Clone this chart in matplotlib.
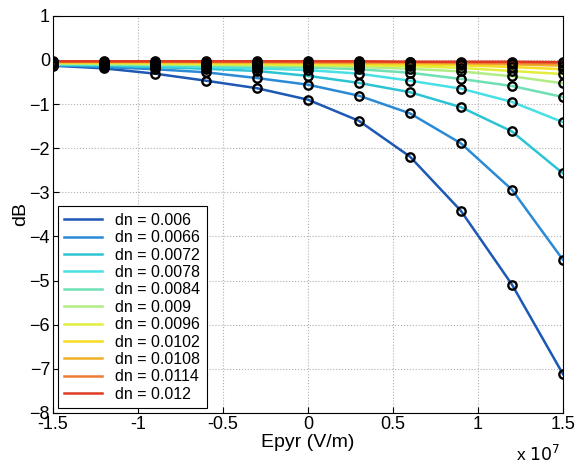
import numpy as np
import matplotlib
matplotlib.use('Agg')
import matplotlib.pyplot as plt

plt.rcParams['font.family'] = ['Liberation Sans', 'DejaVu Sans']

# field values (units of 1e7 V/m)
epyr = [-1.5, -1.2, -0.9, -0.6, -0.3, 0.0, 0.3, 0.6, 0.9, 1.2, 1.5]
dn_labels = ['0.006', '0.0066', '0.0072', '0.0078', '0.0084', '0.009',
             '0.0096', '0.0102', '0.0108', '0.0114', '0.012']

db_006 = [-0.13, -0.19, -0.31, -0.47, -0.64, -0.90, -1.38, -2.19, -3.42, -5.09, -7.12]
db_0066 = [-0.12, -0.16, -0.21, -0.28, -0.41, -0.56, -0.81, -1.21, -1.89, -2.94, -4.53]
db_0072 = [-0.11, -0.13, -0.16, -0.20, -0.25, -0.36, -0.52, -0.73, -1.07, -1.62, -2.57]
db_0078 = [-0.10, -0.11, -0.13, -0.16, -0.19, -0.23, -0.31, -0.47, -0.65, -0.95, -1.41]
db_0084 = [-0.09, -0.10, -0.11, -0.13, -0.15, -0.17, -0.21, -0.29, -0.43, -0.59, -0.84]
db_009 = [-0.08, -0.09, -0.10, -0.11, -0.12, -0.13, -0.16, -0.20, -0.26, -0.37, -0.53]
db_0096 = [-0.07, -0.07, -0.08, -0.09, -0.10, -0.11, -0.12, -0.14, -0.18, -0.25, -0.32]
db_0102 = [-0.06, -0.06, -0.07, -0.07, -0.08, -0.08, -0.09, -0.10, -0.12, -0.16, -0.21]
db_0108 = [-0.05, -0.05, -0.05, -0.06, -0.06, -0.06, -0.07, -0.07, -0.08, -0.10, -0.13]
db_0114 = [-0.04, -0.04, -0.04, -0.04, -0.04, -0.05, -0.05, -0.05, -0.06, -0.07, -0.08]
db_012 = [-0.03, -0.03, -0.03, -0.03, -0.03, -0.03, -0.03, -0.04, -0.04, -0.04, -0.05]

series = [db_006, db_0066, db_0072, db_0078, db_0084, db_009,
          db_0096, db_0102, db_0108, db_0114, db_012]
colors = ['#1c58b4', '#2a8ad6', '#2cc4d4', '#48e0e4', '#6ee0b4', '#b2ec84',
          '#e2ee3c', '#f6dc22', '#f0b028', '#ee7c34', '#e03a22']

fig = plt.figure(figsize=(5.75, 4.66), dpi=100)
ax = fig.add_axes([0.092, 0.114, 0.887, 0.852])

x = np.array(epyr) * 1e7
for vals, c, lab in zip(series, colors, dn_labels):
    ax.plot(x, vals, '-', color=c, lw=1.8, label='dn = ' + lab)
for vals in series:
    ax.plot(x, vals, 'o', mfc='none', mec='black', mew=1.7, ms=6)

ax.set_xlim(-1.5e7, 1.5e7)
ax.set_ylim(-8, 1)
ax.set_xticks(np.arange(-1.5e7, 1.51e7, 0.5e7))
ax.set_xticklabels(['-1.5', '-1', '-0.5', '0', '0.5', '1', '1.5'])
ax.set_yticks(range(-8, 2))
ax.tick_params(direction='in', labelsize=13, length=4, pad=2)
ax.grid(True, linestyle=':', color='#b0b0b0', lw=0.8)
ax.set_xlabel('Epyr (V/m)', fontsize=14, labelpad=1)
ax.set_ylabel('dB', fontsize=14, labelpad=0)
fig.text(0.975, 0.005, r'x $10^7$', ha='right', va='bottom', fontsize=12.5)

leg = ax.legend(loc='lower left', fontsize=11.5, fancybox=False, edgecolor='black',
                framealpha=1, handlelength=2.4, labelspacing=0.15,
                borderaxespad=0.3, borderpad=0.4)
leg.get_frame().set_linewidth(0.8)

fig.savefig('out.png', dpi=100)
